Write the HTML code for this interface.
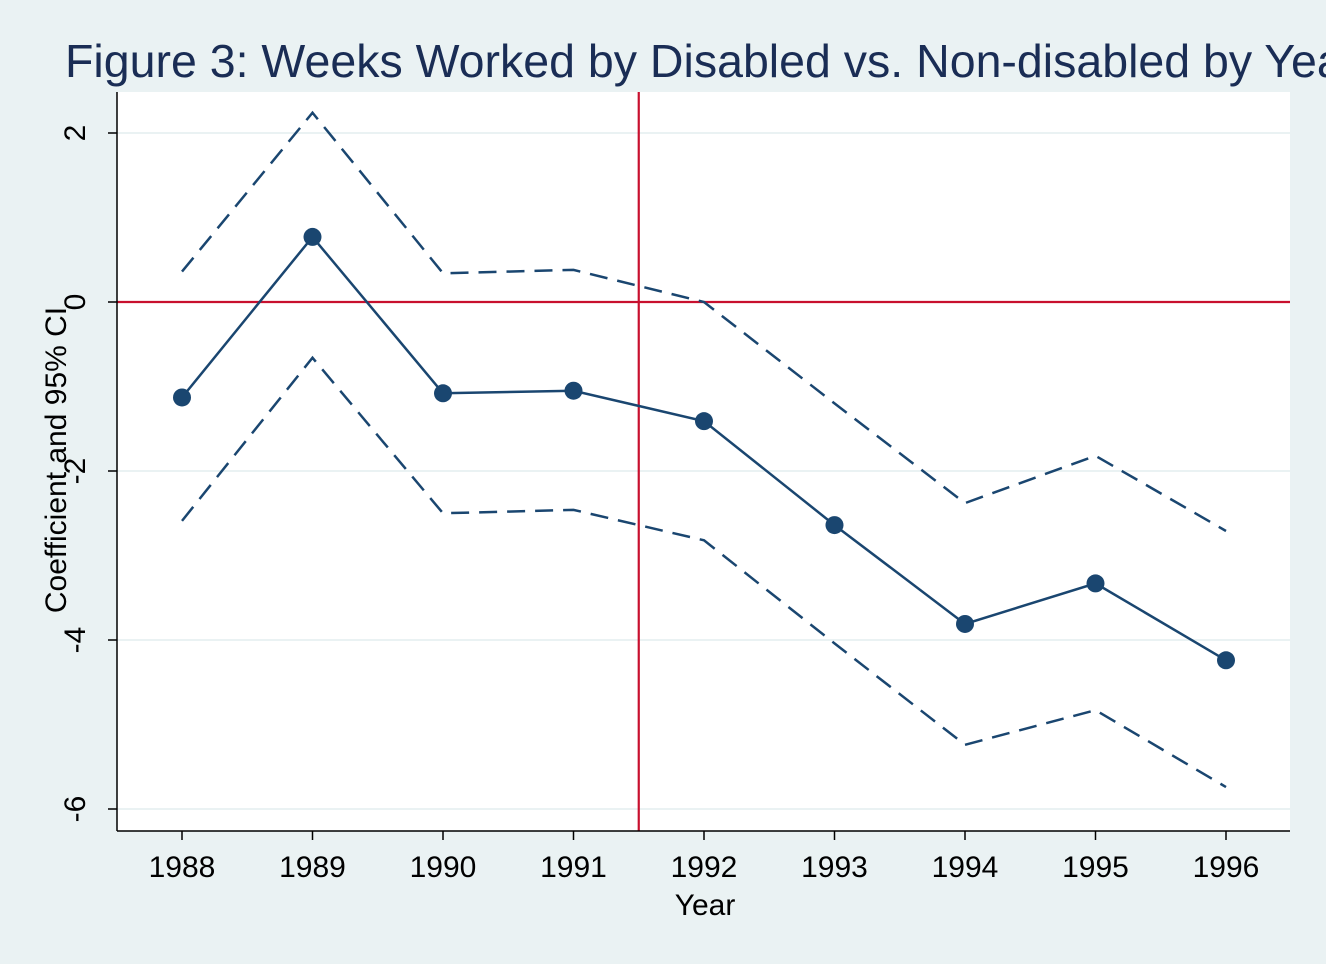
<!DOCTYPE html>
<html><head><meta charset="utf-8"><style>
body{margin:0;background:#eaf2f3;overflow:hidden;}
svg{display:block;font-family:"Liberation Sans",sans-serif;}
</style></head><body>
<svg width="1326" height="964" viewBox="0 0 1326 964">
<rect x="0" y="0" width="1326" height="964" fill="#eaf2f3"/>
<text x="65" y="77" font-size="46.5" fill="#1a2d55">Figure 3: Weeks Worked by Disabled vs. Non-disabled by Year</text>
<rect x="117" y="92" width="1173" height="739" fill="#ffffff"/>
<g id="grid"></g>
<g id="marks"></g>
<line x1="117" y1="92" x2="117" y2="831" stroke="#000" stroke-width="1.5"/>
<line x1="117" y1="831" x2="1290" y2="831" stroke="#000" stroke-width="1.5"/>
<g id="axes"></g>
<text x="705" y="915" font-size="30" text-anchor="middle" fill="#000">Year</text>
<text transform="translate(66,460) rotate(-90)" font-size="30" text-anchor="middle" fill="#000">Coefficient and 95% CI</text>
</svg>
<script>
const years=[1988,1989,1990,1991,1992,1993,1994,1995,1996];
const coef=[-1.13,0.77,-1.08,-1.05,-1.41,-2.64,-3.81,-3.33,-4.24];
const upper=[0.36,2.24,0.34,0.38,0.0,-1.2,-2.38,-1.82,-2.71];
const lower=[-2.59,-0.66,-2.50,-2.46,-2.82,-4.04,-5.24,-4.83,-5.74];
const yTicks=[2,0,-2,-4,-6];
const refX=1991.5, refY=0;
const NS="http://www.w3.org/2000/svg";
const xs=v=>182+(v-1988)*130.5;
const ys=v=>302-v*84.5;
function mk(tag,attrs,parent){const e=document.createElementNS(NS,tag);for(const k in attrs)e.setAttribute(k,attrs[k]);document.getElementById(parent).appendChild(e);return e;}
yTicks.forEach(t=>{
 const g=mk('line',{x1:117,x2:1290,y1:ys(t),y2:ys(t),stroke:'#eaf2f3','stroke-width':2},'grid');
 
 
 const tk=mk('line',{x1:108,x2:117,y1:ys(t),y2:ys(t),stroke:'#000','stroke-width':1.5},'axes');
 
 
 const tx=mk('text',{transform:`translate(85,${ys(t)}) rotate(-90)`,'font-size':30,'text-anchor':'middle',fill:'#000'},'axes');
 tx.textContent=t;
 
 
});
years.forEach(y=>{
 const tk=mk('line',{x1:xs(y),x2:xs(y),y1:831,y2:840,stroke:'#000','stroke-width':1.5},'axes');
 
 
 const tx=mk('text',{x:xs(y),y:877,'font-size':30,'text-anchor':'middle',fill:'#000'},'axes');
 tx.textContent=y;
 
 
});
const hl=mk('line',{x1:117,x2:1290,y1:ys(refY),y2:ys(refY),stroke:'#c8102e','stroke-width':2.2},'marks');


const vl=mk('line',{x1:xs(refX),x2:xs(refX),y1:92,y2:831,stroke:'#c8102e','stroke-width':2.2},'marks');


const pts=a=>a.map((v,i)=>xs(years[i])+','+ys(v)).join(' ');
const up=mk('polyline',{points:pts(upper),fill:'none',stroke:'#1a4670','stroke-width':2.5,'stroke-dasharray':'18,10'},'marks');


const lo=mk('polyline',{points:pts(lower),fill:'none',stroke:'#1a4670','stroke-width':2.5,'stroke-dasharray':'18,10'},'marks');


const cl=mk('polyline',{points:pts(coef),fill:'none',stroke:'#1a4670','stroke-width':2.5},'marks');


coef.forEach((v,i)=>{
 const c=mk('circle',{cx:xs(years[i]),cy:ys(v),r:9,fill:'#1a4670'},'marks');
 
 
});
</script>
</body></html>
